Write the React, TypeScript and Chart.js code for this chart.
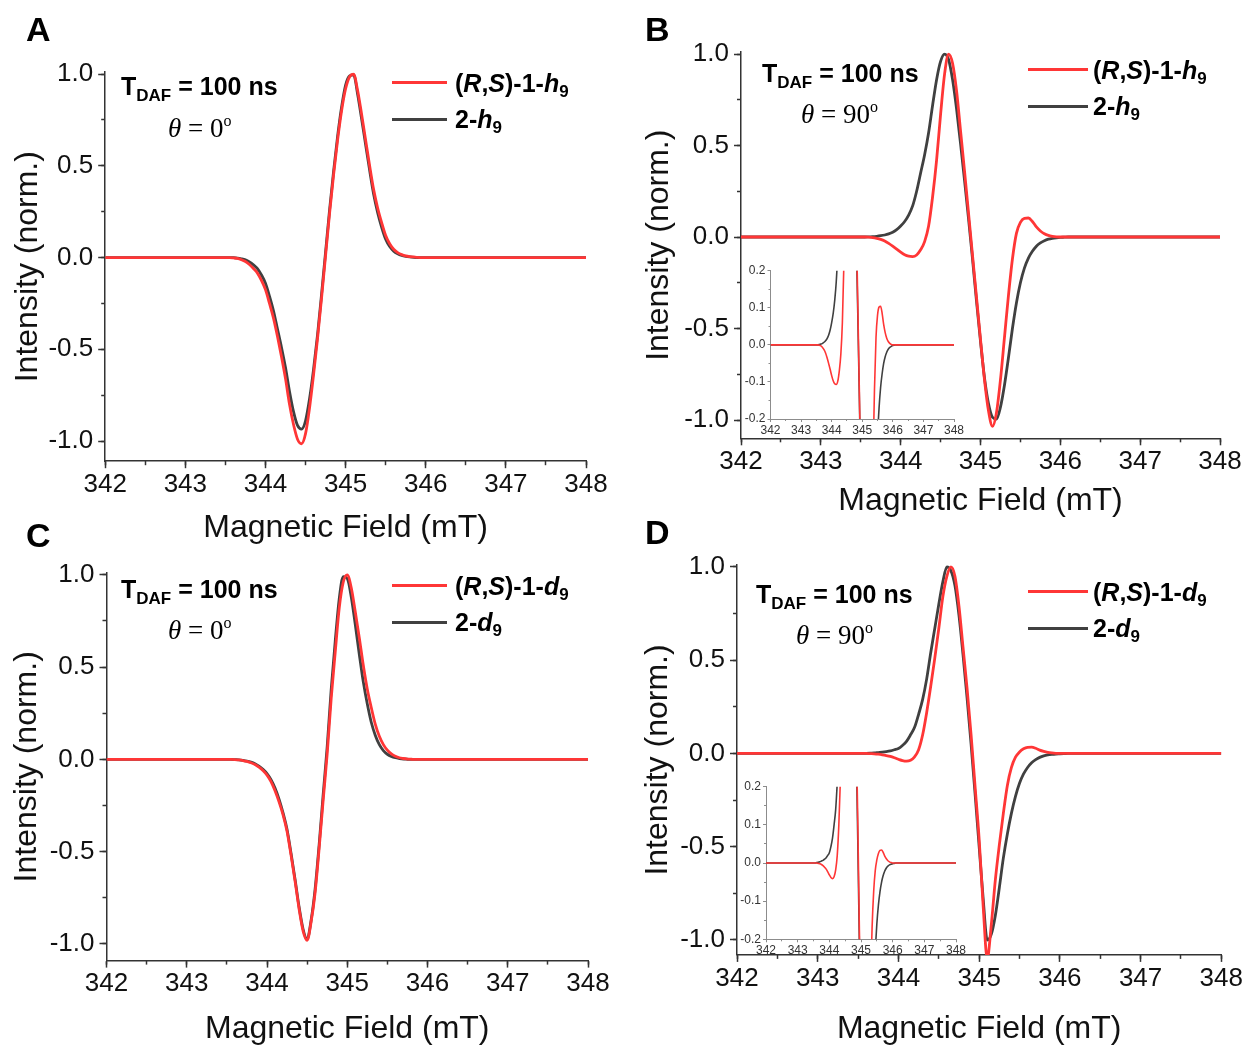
import React, { useEffect, useRef } from 'react';
import { Chart, registerables } from 'chart.js';

Chart.register(...registerables);

const FONT = '"Liberation Sans", Arial, Helvetica, sans-serif';
const SERIF = '"Liberation Serif", "Times New Roman", serif';
Chart.defaults.font.family = FONT;

// ---------- data (magnetic field in mT) ----------
const FIELD = [
  342, 343,
  343.5, 343.55, 343.6, 343.65, 343.7, 343.75, 343.8, 343.85, 343.9, 343.95,
  344, 344.05, 344.1, 344.15, 344.2, 344.25, 344.3, 344.35, 344.4, 344.45,
  344.5, 344.55, 344.6, 344.65, 344.7, 344.75, 344.8, 344.85, 344.9, 344.95,
  345, 345.05, 345.1, 345.15, 345.2, 345.25, 345.3, 345.35, 345.4, 345.45,
  345.5, 345.55, 345.6, 345.65, 345.7, 345.75, 345.8, 345.85, 345.9, 345.95,
  346, 346.05, 346.1, 346.15, 346.2,
  347, 348,
];

// Panel A: theta = 0 deg, h9
const A_RS1_H9 = [
  0, 0,
  0, 0, -0.002, -0.005, -0.012, -0.022, -0.038, -0.06, -0.085, -0.125,
  -0.175, -0.25, -0.33, -0.43, -0.54, -0.66, -0.8, -0.91, -0.99, -1.015,
  -0.96, -0.82, -0.64, -0.44, -0.22, 0.01, 0.24, 0.45, 0.64, 0.8,
  0.92, 0.985, 1.0, 0.91, 0.78, 0.64, 0.5, 0.37, 0.27, 0.19,
  0.12, 0.075, 0.045, 0.027, 0.016, 0.009, 0.005, 0.003, 0.001, 0,
  0, 0, 0, 0, 0,
  0, 0,
];
const A_2_H9 = [
  0, 0,
  0, 0, -0.001, -0.003, -0.007, -0.013, -0.024, -0.04, -0.06, -0.095,
  -0.14, -0.21, -0.29, -0.39, -0.49, -0.6, -0.73, -0.84, -0.915, -0.935,
  -0.89, -0.77, -0.61, -0.42, -0.2, 0.03, 0.26, 0.47, 0.66, 0.82,
  0.94, 0.99, 0.995, 0.89, 0.755, 0.615, 0.475, 0.345, 0.245, 0.165,
  0.1, 0.06, 0.035, 0.02, 0.011, 0.006, 0.003, 0.001, 0, 0,
  0, 0, 0, 0, 0,
  0, 0,
];

// Panel B: theta = 90 deg, h9
const B_RS1_H9 = [
  0, 0,
  0, 0, -0.001, -0.003, -0.007, -0.013, -0.022, -0.035, -0.05, -0.066,
  -0.083, -0.097, -0.105, -0.107, -0.098, -0.07, -0.025, 0.06, 0.22, 0.42,
  0.67, 0.89, 1.0, 0.95, 0.8, 0.58, 0.36, 0.13, -0.1, -0.33,
  -0.56, -0.78, -0.95, -1.035, -0.96, -0.78, -0.55, -0.32, -0.12, 0.02,
  0.08, 0.102, 0.104, 0.085, 0.055, 0.033, 0.018, 0.009, 0.004, 0.001,
  0, 0, 0, 0, 0,
  0, 0,
];
const B_2_H9 = [
  0, 0,
  0, 0, 0.001, 0.002, 0.004, 0.007, 0.011, 0.017, 0.026, 0.04,
  0.06, 0.085, 0.12, 0.17, 0.25, 0.35, 0.45, 0.57, 0.72, 0.86,
  0.96, 1.0, 0.97, 0.86, 0.7, 0.51, 0.31, 0.1, -0.12, -0.35,
  -0.57, -0.77, -0.91, -0.985, -0.995, -0.93, -0.81, -0.66, -0.5, -0.36,
  -0.25, -0.17, -0.115, -0.078, -0.05, -0.032, -0.02, -0.012, -0.007, -0.004,
  -0.002, -0.001, 0, 0, 0,
  0, 0,
];

// Panel C: theta = 0 deg, d9
const C_RS1_D9 = [
  0, 0,
  0, 0, -0.001, -0.003, -0.006, -0.011, -0.018, -0.028, -0.042, -0.06,
  -0.085, -0.12, -0.17, -0.23, -0.3, -0.39, -0.52, -0.66, -0.81, -0.93,
  -0.98, -0.88, -0.72, -0.48, -0.22, 0.03, 0.33, 0.58, 0.82, 0.96,
  1.0, 0.93, 0.8, 0.66, 0.51, 0.38, 0.28, 0.19, 0.125, 0.08,
  0.05, 0.03, 0.017, 0.009, 0.005, 0.002, 0.001, 0, 0, 0,
  0, 0, 0, 0, 0,
  0, 0,
];
const C_2_D9 = [
  0, 0,
  0, 0, -0.001, -0.002, -0.005, -0.009, -0.015, -0.024, -0.037, -0.054,
  -0.077, -0.11, -0.155, -0.215, -0.29, -0.38, -0.51, -0.65, -0.8, -0.92,
  -0.975, -0.87, -0.7, -0.46, -0.19, 0.07, 0.38, 0.64, 0.87, 0.99,
  0.98, 0.88, 0.73, 0.57, 0.42, 0.3, 0.2, 0.13, 0.08, 0.048,
  0.028, 0.016, 0.009, 0.005, 0.002, 0.001, 0, 0, 0, 0,
  0, 0, 0, 0, 0,
  0, 0,
];

// Panel D: theta = 90 deg, d9
const D_RS1_D9 = [
  0, 0,
  0, 0, 0, -0.001, -0.002, -0.004, -0.007, -0.011, -0.016, -0.023,
  -0.031, -0.038, -0.041, -0.036, -0.018, 0.02, 0.1, 0.22, 0.36, 0.51,
  0.67, 0.84, 0.95, 1.0, 0.95, 0.79, 0.57, 0.35, 0.1, -0.18,
  -0.46, -0.82, -1.1, -0.92, -0.68, -0.49, -0.32, -0.17, -0.075, -0.02,
  0.008, 0.025, 0.033, 0.034, 0.028, 0.018, 0.011, 0.006, 0.003, 0.001,
  0, 0, 0, 0, 0,
  0, 0,
];
const D_2_D9 = [
  0, 0,
  0, 0, 0.001, 0.002, 0.003, 0.005, 0.007, 0.01, 0.014, 0.02,
  0.027, 0.043, 0.065, 0.1, 0.14, 0.21, 0.29, 0.4, 0.54, 0.67,
  0.8, 0.92, 1.0, 0.98, 0.9, 0.74, 0.53, 0.3, 0.05, -0.22,
  -0.5, -0.78, -1.0, -0.97, -0.87, -0.72, -0.56, -0.43, -0.32, -0.23,
  -0.16, -0.11, -0.075, -0.05, -0.033, -0.021, -0.013, -0.008, -0.005, -0.003,
  -0.002, -0.001, 0, 0, 0,
  0, 0,
];

const X_MIN = 342;
const X_MAX = 348;

// ---------- styles ----------
const RED = '#ff3636';
const DARK = '#404040';

type Box = { x: number; y: number; w: number; h: number };
type Plot = { left: number; right: number; top: number; bottom: number };

interface ChartSpec {
  box: Box;
  plot: Plot;
  yMin: number;
  yMax: number;
  yStep: number;
  yMinorStep: number;
  red: number[];
  black: number[];
  tickFont: number;
  majorTick: number;
  minorTick: number;
  tickPadX: number;
  tickPadY: number;
  axisColor: string;
  axisWidth: number;
  lineWidth: number;
  labelColor: string;
  xTitlePad?: number;
  yTitlePad?: number;
}

const MAIN_STYLE = {
  tickFont: 26,
  majorTick: 7,
  minorTick: 4,
  tickPadX: 1,
  tickPadY: 5,
  axisColor: '#333333',
  axisWidth: 1.5,
  lineWidth: 2.8,
  labelColor: '#111111',
};

const INSET_STYLE = {
  tickFont: 12,
  majorTick: 3,
  minorTick: 2,
  tickPadX: 1,
  tickPadY: 2,
  axisColor: '#8c8c8c',
  axisWidth: 1,
  lineWidth: 1.6,
  labelColor: '#333333',
};

const CHARTS: ChartSpec[] = [
  {
    ...MAIN_STYLE,
    box: { x: 0, y: 0, w: 620, h: 560 },
    plot: { left: 105.2, right: 586, top: 72.2, bottom: 461.2 },
    yMin: -1.11, yMax: 1.01, yStep: 0.5, yMinorStep: 0.25,
    red: A_RS1_H9, black: A_2_H9,
    xTitlePad: 16, yTitlePad: 12,
  },
  {
    ...MAIN_STYLE,
    box: { x: 620, y: 0, w: 624, h: 560 },
    plot: { left: 741, right: 1220, top: 52.2, bottom: 438.3 },
    yMin: -1.1, yMax: 1.01, yStep: 0.5, yMinorStep: 0.25,
    red: B_RS1_H9, black: B_2_H9,
    xTitlePad: 43, yTitlePad: 23,
  },
  {
    ...MAIN_STYLE,
    box: { x: 0, y: 520, w: 620, h: 528 },
    plot: { left: 106.5, right: 588, top: 573, bottom: 960.6 },
    yMin: -1.09, yMax: 1.01, yStep: 0.5, yMinorStep: 0.25,
    red: C_RS1_D9, black: C_2_D9,
    xTitlePad: 3, yTitlePad: 11,
  },
  {
    ...MAIN_STYLE,
    box: { x: 620, y: 520, w: 624, h: 528 },
    plot: { left: 737, right: 1222, top: 565.1, bottom: 954.9 },
    yMin: -1.08, yMax: 1.01, yStep: 0.5, yMinorStep: 0.25,
    red: D_RS1_D9, black: D_2_D9,
    xTitlePad: 3, yTitlePad: 22,
  },
  {
    ...INSET_STYLE,
    box: { x: 700, y: 250, w: 285, h: 195 },
    plot: { left: 770.5, right: 954, top: 270.7, bottom: 419 },
    yMin: -0.2, yMax: 0.2, yStep: 0.1, yMinorStep: 0.05,
    red: B_RS1_H9, black: B_2_H9,
  },
  {
    ...INSET_STYLE,
    box: { x: 700, y: 765, w: 285, h: 200 },
    plot: { left: 766, right: 956, top: 786.7, bottom: 939.3 },
    yMin: -0.2, yMax: 0.2, yStep: 0.1, yMinorStep: 0.05,
    red: D_RS1_D9, black: D_2_D9,
  },
];

function buildConfig(s: ChartSpec): any {
  const yAxisW = s.plot.left - s.box.x;
  const padRight = s.box.x + s.box.w - s.plot.right;
  const padTop = s.plot.top - s.box.y;
  const xAxisH = s.box.y + s.box.h - s.plot.bottom;
  const series = (vals: number[]) => FIELD.map((x, i) => ({ x, y: vals[i] }));
  const fmtY = (v: any) => {
    const n = Number(v);
    return Math.abs(n) < 1e-9 ? '0.0' : n.toFixed(1);
  };
  const tickGrid = (len: number) => ({
    display: true,
    drawOnChartArea: false,
    drawTicks: true,
    tickLength: len,
    tickColor: s.axisColor,
    tickWidth: s.axisWidth,
  });
  return {
    type: 'line',
    data: {
      datasets: [
        {
          label: 'red',
          data: series(s.red),
          borderColor: RED,
          backgroundColor: RED,
          borderWidth: s.lineWidth,
          pointRadius: 0,
          fill: false,
          cubicInterpolationMode: 'monotone',
          order: 0,
        },
        {
          label: 'black',
          data: series(s.black),
          borderColor: DARK,
          backgroundColor: DARK,
          borderWidth: s.lineWidth,
          pointRadius: 0,
          fill: false,
          cubicInterpolationMode: 'monotone',
          order: 1,
        },
      ],
    },
    options: {
      responsive: false,
      animation: false,
      devicePixelRatio: 1,
      events: [],
      layout: { padding: { left: 0, right: padRight, top: padTop, bottom: 0 } },
      plugins: { legend: { display: false }, tooltip: { enabled: false } },
      scales: {
        x: {
          type: 'linear',
          position: 'bottom',
          weight: 1,
          min: X_MIN,
          max: X_MAX,
          ticks: {
            stepSize: 1,
            autoSkip: false,
            maxRotation: 0,
            minRotation: 0,
            includeBounds: false,
            font: { size: s.tickFont, family: FONT },
            color: s.labelColor,
            padding: s.tickPadX,
            callback: (v: any) => Number(v).toFixed(0),
          },
          grid: tickGrid(s.majorTick),
          border: { display: true, color: s.axisColor, width: s.axisWidth },
          title:
            s.xTitlePad !== undefined
              ? {
                  display: true,
                  text: 'Magnetic Field (mT)',
                  font: { size: 32, family: FONT, lineHeight: 1 },
                  color: '#111111',
                  padding: { top: 0, bottom: s.xTitlePad },
                }
              : { display: false },
          afterFit: (sc: any) => {
            sc.height = xAxisH;
          },
        },
        xMinor: {
          type: 'linear',
          position: 'bottom',
          weight: 0,
          min: X_MIN,
          max: X_MAX,
          ticks: { stepSize: 0.5, display: false, autoSkip: false, includeBounds: false },
          grid: tickGrid(s.minorTick),
          border: { display: false },
          afterFit: (sc: any) => {
            sc.height = 0;
          },
        },
        y: {
          type: 'linear',
          position: 'left',
          weight: 1,
          min: s.yMin,
          max: s.yMax,
          ticks: {
            stepSize: s.yStep,
            autoSkip: false,
            includeBounds: false,
            font: { size: s.tickFont, family: FONT },
            color: s.labelColor,
            padding: s.tickPadY,
            callback: fmtY,
          },
          grid: tickGrid(s.majorTick),
          border: { display: true, color: s.axisColor, width: s.axisWidth },
          title:
            s.yTitlePad !== undefined
              ? {
                  display: true,
                  text: 'Intensity (norm.)',
                  font: { size: 32, family: FONT, lineHeight: 1 },
                  color: '#111111',
                  padding: { top: s.yTitlePad, bottom: 0 },
                }
              : { display: false },
          afterFit: (sc: any) => {
            sc.width = yAxisW;
          },
        },
        yMinor: {
          type: 'linear',
          position: 'left',
          weight: 0,
          min: s.yMin,
          max: s.yMax,
          ticks: { stepSize: s.yMinorStep, display: false, autoSkip: false, includeBounds: false },
          grid: tickGrid(s.minorTick),
          border: { display: false },
          afterFit: (sc: any) => {
            sc.width = 0;
          },
        },
      },
    },
  };
}

function ChartCanvas({ spec }: { spec: ChartSpec }) {
  const ref = useRef<HTMLCanvasElement | null>(null);
  useEffect(() => {
    if (!ref.current) return;
    const chart = new Chart(ref.current, buildConfig(spec));
    return () => chart.destroy();
  }, [spec]);
  return (
    <canvas
      ref={ref}
      width={spec.box.w}
      height={spec.box.h}
      style={{
        position: 'absolute',
        left: spec.box.x,
        top: spec.box.y,
        width: spec.box.w,
        height: spec.box.h,
      }}
    />
  );
}

// ---------- annotations ----------
type Note = {
  letter: string;
  letterPos: [number, number];
  tdafPos: [number, number];
  thetaPos: [number, number];
  angle: string;
  legendX: [number, number];
  legendY: [number, number];
  legendTextX: number;
  iso: string;
};

const NOTES: Note[] = [
  { letter: 'A', letterPos: [26, 12], tdafPos: [121, 74], thetaPos: [168, 115], angle: '0',
    legendX: [392, 447], legendY: [82, 119.5], legendTextX: 455, iso: 'h' },
  { letter: 'B', letterPos: [645, 12], tdafPos: [762, 61], thetaPos: [801, 101], angle: '90',
    legendX: [1028, 1088], legendY: [69.5, 106], legendTextX: 1093, iso: 'h' },
  { letter: 'C', letterPos: [26, 518], tdafPos: [121, 577], thetaPos: [168, 617], angle: '0',
    legendX: [392, 447], legendY: [585.5, 622], legendTextX: 455, iso: 'd' },
  { letter: 'D', letterPos: [645, 515], tdafPos: [756, 582], thetaPos: [796, 622], angle: '90',
    legendX: [1028, 1088], legendY: [591, 628], legendTextX: 1093, iso: 'd' },
];

const abs = (left: number, top: number, extra: React.CSSProperties = {}): React.CSSProperties => ({
  position: 'absolute',
  left,
  top,
  whiteSpace: 'nowrap',
  lineHeight: 1,
  ...extra,
});

function Sub({ children, size = 17, dy = 5 }: { children: React.ReactNode; size?: number; dy?: number }) {
  return <span style={{ fontSize: size, position: 'relative', top: dy }}>{children}</span>;
}

function Annotations({ n }: { n: Note }) {
  const bold: React.CSSProperties = { fontFamily: FONT, fontWeight: 'bold', fontSize: 25, color: '#000' };
  return (
    <>
      <div style={abs(n.letterPos[0], n.letterPos[1], { fontFamily: FONT, fontWeight: 'bold', fontSize: 34, color: '#000' })}>
        {n.letter}
      </div>
      <div style={abs(n.tdafPos[0], n.tdafPos[1], bold)}>
        T<Sub size={17} dy={6}>DAF</Sub> = 100 ns
      </div>
      <div style={abs(n.thetaPos[0], n.thetaPos[1], { fontFamily: SERIF, fontSize: 27, color: '#000' })}>
        <i>θ</i> = {n.angle}
        <span style={{ fontSize: 16, position: 'relative', top: -11 }}>o</span>
      </div>
      <div
        style={{
          position: 'absolute',
          left: n.legendX[0],
          top: n.legendY[0] - 1.5,
          width: n.legendX[1] - n.legendX[0],
          height: 3,
          background: RED,
        }}
      />
      <div
        style={{
          position: 'absolute',
          left: n.legendX[0],
          top: n.legendY[1] - 1.5,
          width: n.legendX[1] - n.legendX[0],
          height: 3,
          background: DARK,
        }}
      />
      <div style={abs(n.legendTextX, n.legendY[0] - 11.5, bold)}>
        (<i>R</i>,<i>S</i>)-1-<i>{n.iso}</i>
        <Sub size={17} dy={5}>9</Sub>
      </div>
      <div style={abs(n.legendTextX, n.legendY[1] - 12.5, bold)}>
        2-<i>{n.iso}</i>
        <Sub size={17} dy={5}>9</Sub>
      </div>
    </>
  );
}

export default function App() {
  return (
    <div
      style={{
        position: 'absolute',
        left: 0,
        top: 0,
        width: 1244,
        height: 1048,
        background: '#ffffff',
        overflow: 'hidden',
      }}
    >
      {CHARTS.map((c, i) => (
        <ChartCanvas key={i} spec={c} />
      ))}
      {NOTES.map((n, i) => (
        <Annotations key={i} n={n} />
      ))}
    </div>
  );
}
